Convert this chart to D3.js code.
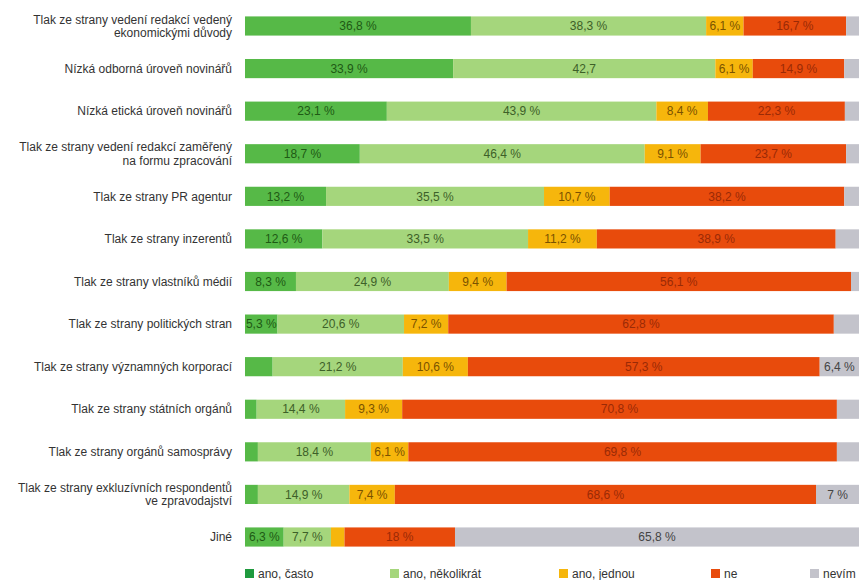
<!DOCTYPE html>
<html>
<head>
<meta charset="utf-8">
<script src="https://cdn.jsdelivr.net/npm/d3@7"></script>
<style>
  body { margin: 0; background: #fff; }
  svg { display: block; font-family: "Liberation Sans", Arial, sans-serif; }
</style>
</head>
<body>
<svg id="chart" width="860" height="580"></svg>
<script>
// Categories (top to bottom), "\n" splits two-line labels
const categories = [
    'Tlak ze strany vedení redakcí vedený\nekonomickými důvody',
    'Nízká odborná úroveň novinářů',
    'Nízká etická úroveň novinářů',
    'Tlak ze strany vedení redakcí zaměřený\nna formu zpracování',
    'Tlak ze strany PR agentur',
    'Tlak ze strany inzerentů',
    'Tlak ze strany vlastníků médií',
    'Tlak ze strany politických stran',
    'Tlak ze strany významných korporací',
    'Tlak ze strany státních orgánů',
    'Tlak ze strany orgánů samosprávy',
    'Tlak ze strany exkluzívních respondentů\nve zpravodajství',
    'Jiné'
];

const seriesNames = ['ano, často', 'ano, několikrát', 'ano, jednou', 'ne', 'nevím'];

// Values per series, in category order (%)
const anoCasto      = [36.8, 33.9, 23.1, 18.7, 13.2, 12.6, 8.3, 5.3, 4.5, 1.9, 2.1, 2.1, 6.3];
const anoNekolikrat = [38.3, 42.7, 43.9, 46.4, 35.5, 33.5, 24.9, 20.6, 21.2, 14.4, 18.4, 14.9, 7.7];
const anoJednou     = [6.1, 6.1, 8.4, 9.1, 10.7, 11.2, 9.4, 7.2, 10.6, 9.3, 6.1, 7.4, 2.2];
const ne            = [16.7, 14.9, 22.3, 23.7, 38.2, 38.9, 56.1, 62.8, 57.3, 70.8, 69.8, 68.6, 18];
const nevim         = [2.1, 2.4, 2.3, 2.1, 2.4, 3.8, 1.3, 4.1, 6.4, 3.6, 3.6, 7, 65.8];

// Segment labels as printed (null = no label)
const labelsCasto      = ['36,8 %', '33,9 %', '23,1 %', '18,7 %', '13,2 %', '12,6 %', '8,3 %', '5,3 %', null, null, null, null, '6,3 %'];
const labelsNekolikrat = ['38,3 %', '42,7', '43,9 %', '46,4 %', '35,5 %', '33,5 %', '24,9 %', '20,6 %', '21,2 %', '14,4 %', '18,4 %', '14,9 %', '7,7 %'];
const labelsJednou     = ['6,1 %', '6,1 %', '8,4 %', '9,1 %', '10,7 %', '11,2 %', '9,4 %', '7,2 %', '10,6 %', '9,3 %', '6,1 %', '7,4 %', null];
const labelsNe         = ['16,7 %', '14,9 %', '22,3 %', '23,7 %', '38,2 %', '38,9 %', '56,1 %', '62,8 %', '57,3 %', '70,8 %', '69,8 %', '68,6 %', '18 %'];
const labelsNevim      = [null, null, null, null, null, null, null, null, '6,4 %', null, null, '7 %', '65,8 %'];

const seriesValues = [anoCasto, anoNekolikrat, anoJednou, ne, nevim];
const seriesLabels = [labelsCasto, labelsNekolikrat, labelsJednou, labelsNe, labelsNevim];

const barColors = ['#56b947', '#a5d67c', '#f6b60c', '#e84b0c', '#c3c3cb'];
const legendColors = ['#1f9a3e', '#a5d67c', '#f6b60c', '#e84b0c', '#c3c3cb'];
const textColors = ['#1e5a14', '#3d6028', '#7a5200', '#9a2a06', '#444'];

const svg = d3.select('#chart');

// Scales
const x = d3.scaleLinear().domain([0, 100]).range([245, 859]);
const y = d3.scaleBand()
    .domain(categories)
    .range([4.7, 558.3])
    .paddingInner(0.55)
    .paddingOuter(0.275);

// Build stacked table from the arrays
const table = categories.map((c, i) => {
    const row = { category: c };
    seriesNames.forEach((s, k) => { row[s] = seriesValues[k][i]; });
    return row;
});
const stacked = d3.stack().keys(seriesNames)(table);

// Bars
const layers = svg.selectAll('.layer')
    .data(stacked)
    .enter().append('g')
    .attr('class', 'layer')
    .attr('fill', (d, k) => barColors[k]);

layers.selectAll('rect')
    .data(d => d)
    .enter().append('rect')
    .attr('x', d => x(d[0]))
    .attr('y', d => y(d.data.category))
    .attr('width', d => x(d[1]) - x(d[0]))
    .attr('height', y.bandwidth());

// Value labels
stacked.forEach((layer, k) => {
    svg.append('g')
        .selectAll('text')
        .data(layer.map((d, i) => ({ d: d, label: seriesLabels[k][i] })).filter(e => e.label))
        .enter().append('text')
        .attr('x', e => (x(e.d[0]) + x(e.d[1])) / 2)
        .attr('y', e => y(e.d.data.category) + y.bandwidth() / 2)
        .attr('dy', '0.35em')
        .attr('text-anchor', 'middle')
        .style('font-size', '12px')
        .style('fill', textColors[k])
        .text(e => e.label);
});

// Category labels
const catLabels = svg.append('g')
    .selectAll('text')
    .data(categories)
    .enter().append('text')
    .attr('x', 232)
    .attr('y', d => y(d) + y.bandwidth() / 2)
    .attr('text-anchor', 'end')
    .style('font-size', '12px')
    .style('fill', '#333');

catLabels.each(function(d) {
    const lines = d.split('\n');
    const t = d3.select(this);
    lines.forEach((line, j) => {
        t.append('tspan')
            .attr('x', 232)
            .attr('dy', j === 0 ? (0.35 - (lines.length - 1) * 0.55) + 'em' : '1.1em')
            .text(line);
    });
});

// Legend
const legendX = [245, 390, 559, 711, 810];
const legend = svg.append('g')
    .selectAll('g')
    .data(seriesNames)
    .enter().append('g')
    .attr('transform', (d, k) => `translate(${legendX[k]}, 569)`);

legend.append('rect')
    .attr('width', 9)
    .attr('height', 9)
    .attr('fill', (d, k) => legendColors[k]);

legend.append('text')
    .attr('x', 13)
    .attr('y', 9)
    .style('font-size', '12px')
    .style('fill', '#333')
    .text(d => d);
</script>
</body>
</html>
